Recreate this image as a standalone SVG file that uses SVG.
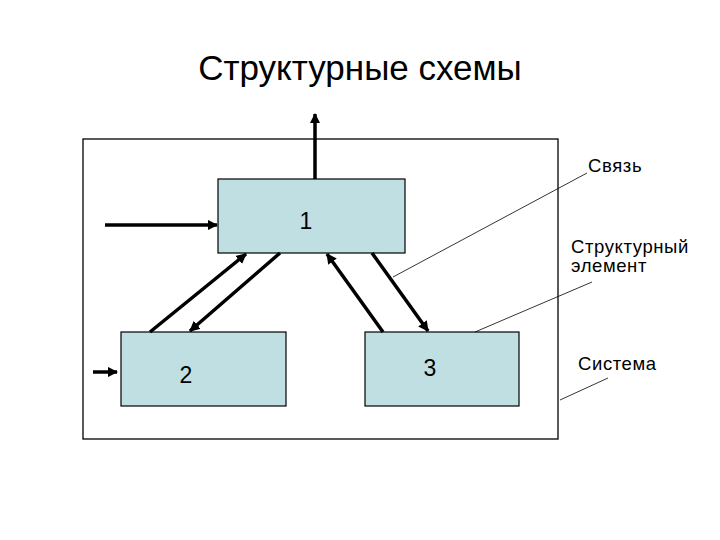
<svg xmlns="http://www.w3.org/2000/svg" width="720" height="540" viewBox="0 0 720 540">
<style>
.box{fill:#bfdfe2;stroke:#000;stroke-width:1.2}
.sys{fill:#fff;stroke:#000;stroke-width:1.3}
.conn{stroke:#000;stroke-width:3.5;fill:none}
.lead{stroke:#000;stroke-width:0.8;fill:none}
.t{font-family:"Liberation Sans",Arial,sans-serif;fill:#000}
.lb{font-size:18.5px;letter-spacing:0.6px}
.num{font-size:23px}
</style>
<defs>
<marker id="ah" viewBox="0 0 10 10" refX="9" refY="5" markerWidth="3" markerHeight="3" orient="auto" markerUnits="strokeWidth">
<path d="M0,0 L10,5 L0,10 z" fill="#000"/>
</marker>
</defs>
<rect width="720" height="540" fill="#fff"/>
<text class="t" x="360" y="80" font-size="35" text-anchor="middle">Структурные схемы</text>
<g id="system"><rect class="sys" x="83" y="139" width="475" height="300"/></g>
<g id="node1"><rect class="box" x="218" y="179" width="187" height="74"/><text class="t num" x="306" y="229" text-anchor="middle">1</text></g>
<g id="node2"><rect class="box" x="121" y="332" width="165" height="74"/><text class="t num" x="186" y="383" text-anchor="middle">2</text></g>
<g id="node3"><rect class="box" x="365" y="332" width="154" height="74"/><text class="t num" x="430" y="376" text-anchor="middle">3</text></g>
<g id="connectors">
<line class="conn" x1="315" y1="179" x2="315" y2="114" marker-end="url(#ah)"/>
<line class="conn" x1="105" y1="225" x2="217" y2="225" marker-end="url(#ah)"/>
<line class="conn" x1="93" y1="372" x2="117" y2="372" marker-end="url(#ah)"/>
<line class="conn" x1="150" y1="332" x2="246" y2="254" marker-end="url(#ah)"/>
<line class="conn" x1="280" y1="253" x2="190" y2="331" marker-end="url(#ah)"/>
<line class="conn" x1="383" y1="332" x2="327" y2="254" marker-end="url(#ah)"/>
<line class="conn" x1="372" y1="253" x2="428" y2="331" marker-end="url(#ah)"/>
<line class="lead" x1="587" y1="173" x2="393" y2="277"/>
<line class="lead" x1="592" y1="282" x2="475" y2="332"/>
<line class="lead" x1="608" y1="378" x2="560" y2="400"/>
</g>
<g id="labels">
<text class="t lb" x="588" y="172">Связь</text>
<text class="t lb" x="571" y="253">Структурный</text>
<text class="t lb" x="571" y="272">элемент</text>
<text class="t lb" x="578" y="370">Система</text>
</g>
</svg>
